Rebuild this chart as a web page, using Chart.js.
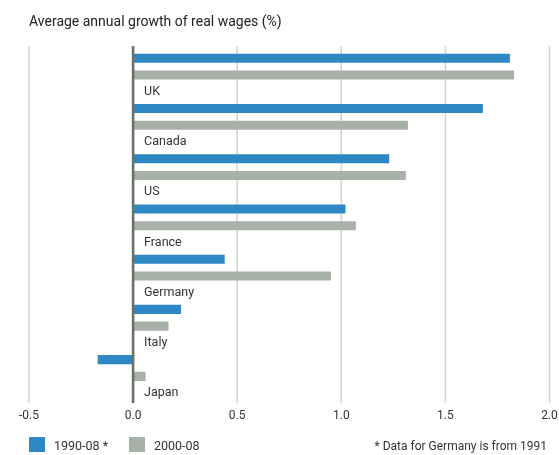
<!DOCTYPE html>
<html>
<head>
<meta charset="utf-8">
<script src="https://cdn.jsdelivr.net/npm/chart.js@4/dist/chart.umd.min.js"></script>
<style>
  html, body { margin: 0; padding: 0; background: #fff; }
  #wrap { width: 559px; height: 455px; }
</style>
</head>
<body>
<div id="wrap"><canvas id="chart" width="559" height="455"></canvas></div>
<script>
// G7 countries, real wage growth per year (%)
const countries = ["UK", "Canada", "US", "France", "Germany", "Italy", "Japan"];
const growth1990 = [1.81, 1.68, 1.23, 1.02, 0.44, 0.23, -0.17];
const growth2000 = [1.83, 1.32, 1.31, 1.07, 0.95, 0.17, 0.06];
const seriesNames = ["1990-08 *", "2000-08"];
const xTicks = [-0.5, 0, 0.5, 1, 1.5, 2];

const FONT = "Roboto, 'DejaVu Sans', sans-serif";
const BLUE = "#2e88c4";
const GREY = "#a8b1a7";

// vertical guides, zero line, country names, heading, key and footnote
const decorations = {
  id: "decorations",
  beforeDatasetsDraw(chart) {
    const { ctx } = chart;
    const x = chart.scales.x;
    ctx.save();
    ctx.strokeStyle = "#d3d3c8";
    ctx.lineWidth = 1.5;
    xTicks.forEach(v => {
      if (v === 0) return;
      const px = x.getPixelForValue(v);
      ctx.beginPath();
      ctx.moveTo(px, 46);
      ctx.lineTo(px, 403);
      ctx.stroke();
    });
    ctx.restore();
  },
  afterDatasetsDraw(chart) {
    const { ctx } = chart;
    const x = chart.scales.x;
    const y = chart.scales.y;
    const zero = x.getPixelForValue(0);
    ctx.save();
    ctx.strokeStyle = "#6b7068";
    ctx.lineWidth = 2.6;
    ctx.beginPath();
    ctx.moveTo(zero, 46);
    ctx.lineTo(zero, 403);
    ctx.stroke();

    const band = y.getPixelForValue(1) - y.getPixelForValue(0);
    ctx.fillStyle = "#333";
    ctx.font = "12.5px " + FONT;
    ctx.textAlign = "left";
    ctx.textBaseline = "middle";
    countries.forEach((c, i) => {
      ctx.fillText(c, zero + 11, y.getPixelForValue(i) + band / 2);
    });

    ctx.fillStyle = "#222";
    ctx.font = "14px " + FONT;
    ctx.fillText("Average annual growth of real wages (%)", 29, 22);

    // key along the bottom
    ctx.font = "12.5px " + FONT;
    let kx = 29;
    chart.data.datasets.forEach(ds => {
      ctx.fillStyle = ds.backgroundColor;
      ctx.fillRect(kx, 437, 16, 15);
      ctx.fillStyle = "#333";
      ctx.fillText(ds.label, kx + 25, 447);
      kx += 100;
    });

    ctx.font = "12px " + FONT;
    ctx.textAlign = "right";
    ctx.fillText("* Data for Germany is from 1991", 547, 447);
    ctx.restore();
  }
};

new Chart(document.getElementById("chart"), {
  type: "bar",
  data: {
    labels: countries,
    datasets: [
      { label: seriesNames[0], data: growth1990, backgroundColor: BLUE },
      { label: seriesNames[1], data: growth2000, backgroundColor: GREY }
    ]
  },
  options: {
    indexAxis: "y",
    responsive: false,
    animation: false,
    events: [],
    categoryPercentage: 0.667,
    barPercentage: 0.54,
    layout: { padding: { left: 9, right: 9.5, top: 41.5, bottom: 16.5 } },
    scales: {
      x: {
        type: "linear",
        min: -0.5,
        max: 2,
        afterBuildTicks: s => { s.ticks = xTicks.map(v => ({ value: v })); },
        afterFit: s => { s.paddingLeft = 0; s.paddingRight = 0; },
        grid: { display: false, drawTicks: false },
        border: { display: false },
        ticks: {
          padding: 15.5,
          color: "#333",
          font: { family: FONT, size: 12 },
          callback: v => Number(v).toFixed(1)
        }
      },
      y: {
        display: true,
        afterFit: s => { s.width = 20; },
        grid: { display: false, drawTicks: false },
        border: { display: false },
        ticks: { display: false }
      }
    },
    plugins: {
      tooltip: { enabled: false },
      legend: { display: false }
    }
  },
  plugins: [decorations]
});
</script>
</body>
</html>
